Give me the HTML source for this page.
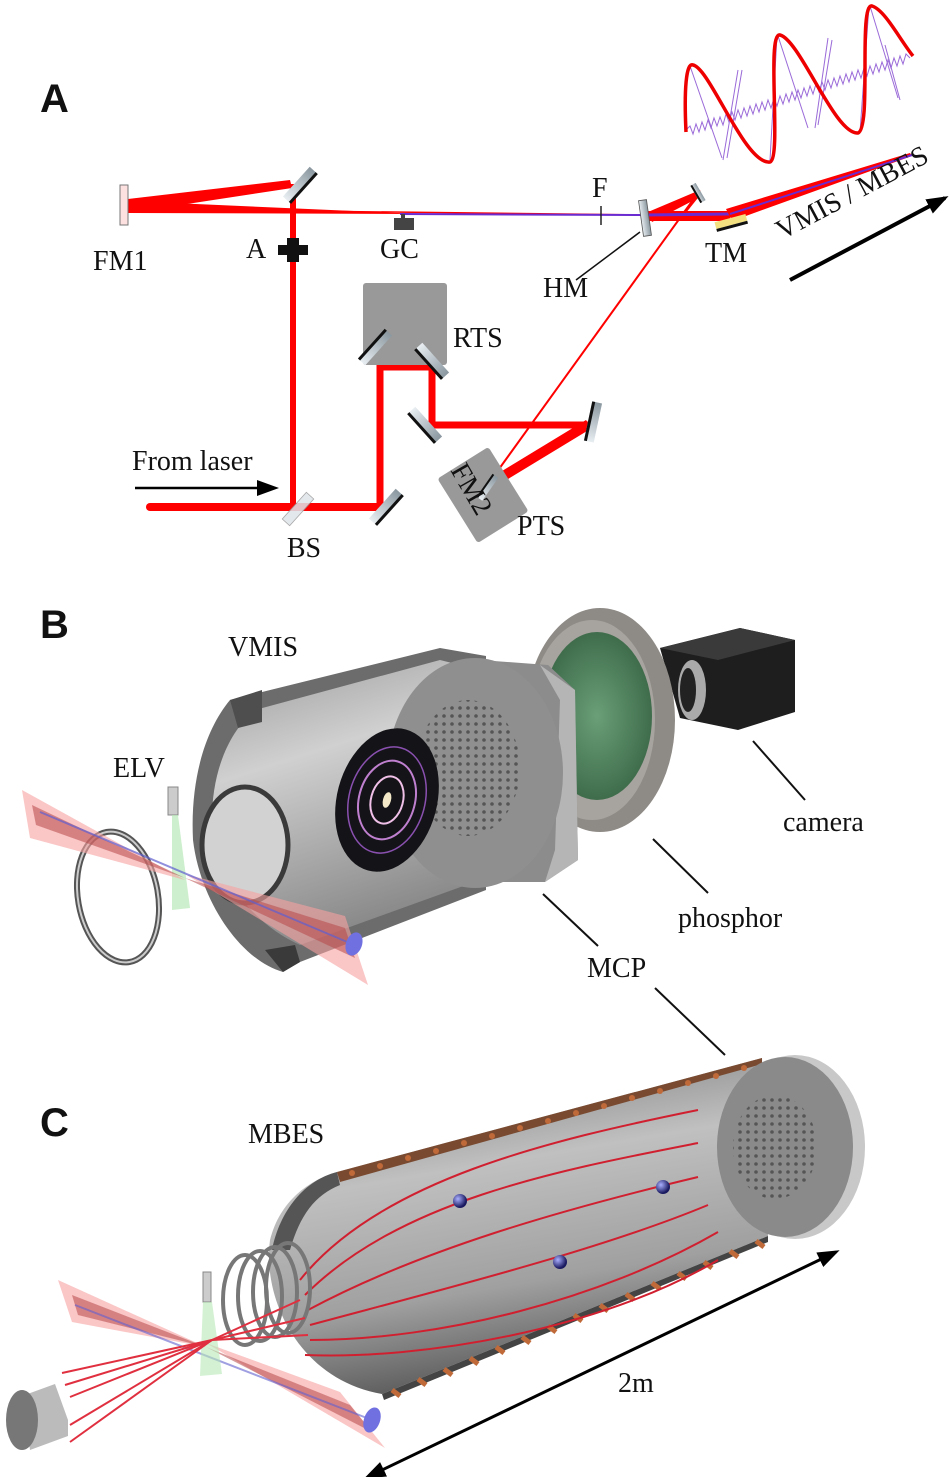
<!DOCTYPE html>
<html><head><meta charset="utf-8"><style>
html,body{margin:0;padding:0;background:#fff;}
svg{display:block;}
text{font-family:"Liberation Serif",serif;fill:#111;}
.big{font-family:"Liberation Sans",sans-serif;font-weight:bold;font-size:40px;}
.l{font-size:28px;}
</style></head><body>
<svg width="950" height="1477" viewBox="0 0 950 1477" xmlns="http://www.w3.org/2000/svg">
<defs>
<linearGradient id="mir" x1="0" x2="1"><stop offset="0" stop-color="#e8eef2"/><stop offset="1" stop-color="#8a979f"/></linearGradient>
<linearGradient id="inner" x1="0" y1="0" x2="0.3" y2="1"><stop offset="0" stop-color="#9a9a9a"/><stop offset="0.4" stop-color="#d0d0d0"/><stop offset="1" stop-color="#8a8a8a"/></linearGradient>
<linearGradient id="cylc" x1="0" y1="0" x2="0.25" y2="1"><stop offset="0" stop-color="#6d6d6d"/><stop offset="0.4" stop-color="#c0c0c0"/><stop offset="0.75" stop-color="#a0a0a0"/><stop offset="1" stop-color="#5e5e5e"/></linearGradient>
<radialGradient id="grn" cx="0.5" cy="0.5" r="0.5"><stop offset="0" stop-color="#6a9f77"/><stop offset="1" stop-color="#3f6d4c"/></radialGradient>
<radialGradient id="ball" cx="0.35" cy="0.35" r="0.6"><stop offset="0" stop-color="#aab0ff"/><stop offset="1" stop-color="#1a1a60"/></radialGradient>
<pattern id="holes" width="8" height="8" patternUnits="userSpaceOnUse"><circle cx="4" cy="4" r="1.8" fill="#555"/></pattern>
<marker id="ah2" markerWidth="22" markerHeight="16" refX="18" refY="8" orient="auto" markerUnits="userSpaceOnUse"><path d="M0,0 L22,8 L0,16 Z" fill="#000"/></marker>
<marker id="ah3" markerWidth="22" markerHeight="16" refX="4" refY="8" orient="auto-start-reverse" markerUnits="userSpaceOnUse"><path d="M0,0 L22,8 L0,16 Z" fill="#000"/></marker>
</defs>

<!-- ========== PANEL A ========== -->
<text class="big" x="40" y="112">A</text>

<!-- wave -->
<g stroke="#9a6ad8" stroke-width="1" fill="none">
<polyline points="686,130 690,126 693,134 696,124 699,132 702,122 705,130 708,120 711,128 714,118 717,126 720,117 723,125 726,114 729,122 732,112 735,120 738,110 741,118 744,108 747,116 750,106 753,114 756,104 759,112 762,102 765,110 768,100 771,108 774,98 777,106 780,96 783,104 786,94 789,102 792,92 795,100 798,90 801,98 804,88 807,96 810,86 813,94 816,84 819,92 822,82 825,90 828,80 831,88 834,78 837,86 840,76 843,84 846,74 849,82 852,72 855,80 858,70 861,78 864,68 867,76 870,66 873,74 876,64 879,72 882,62 885,70 888,60 891,68 894,58 897,66 900,56 903,64 906,54 910,58"/>
<line x1="690" y1="66" x2="722" y2="158"/><line x1="738" y1="70" x2="723" y2="160"/><line x1="742" y1="70" x2="727" y2="158"/>
<line x1="777" y1="36" x2="770" y2="160"/><line x1="778" y1="36" x2="808" y2="128"/><line x1="828" y1="38" x2="815" y2="128"/><line x1="832" y1="40" x2="818" y2="125"/>
<line x1="869" y1="6" x2="860" y2="132"/><line x1="870" y1="6" x2="898" y2="98"/><line x1="885" y1="45" x2="900" y2="100"/>
</g>
<path d="M686,132 C684,90 686,62 693,65 C710,68 745,165 770,162 C782,158 766,32 780,35 C800,40 835,135 858,133 C872,128 858,3 872,6 C885,10 900,40 913,56" fill="none" stroke="#e00" stroke-width="3.5"/>

<!-- beams -->
<polygon points="128,199 290,180 292,188 128,213" fill="#f00"/>
<polygon points="128,201 128,213 420,214" fill="#f00"/>
<line x1="128" y1="209" x2="645" y2="215" stroke="#f00" stroke-width="1.5"/>
<line x1="400" y1="214" x2="645" y2="215" stroke="#6a2bd0" stroke-width="2"/>
<line x1="293" y1="184" x2="293" y2="508" stroke="#f00" stroke-width="6"/>
<line x1="150" y1="507" x2="384" y2="507" stroke="#f00" stroke-width="8" stroke-linecap="round"/>
<polyline points="380,507 380,367 432,367 432,425 590,425" fill="none" stroke="#f00" stroke-width="7"/>
<polygon points="586,420 592,428 490,490 484,482" fill="#f00"/>
<line x1="486" y1="487" x2="698" y2="193" stroke="#f00" stroke-width="2"/>
<polygon points="648,212 700,190 702,196 652,222" fill="#f00"/>
<line x1="680" y1="218" x2="700" y2="193" stroke="#f00" stroke-width="3"/>
<polygon points="645,211 730,211 730,221 645,221" fill="#f00"/>
<line x1="645" y1="215" x2="730" y2="214" stroke="#6a2bd0" stroke-width="3"/>
<polygon points="726,209 910,153 912,156 732,221" fill="#f00"/>
<line x1="730" y1="214" x2="912" y2="155" stroke="#6a2bd0" stroke-width="2"/>

<!-- optics -->
<rect x="120" y="185" width="8" height="40" fill="#fde0e0" stroke="#777" stroke-width="1"/>
<g transform="translate(300,185) rotate(-48)"><rect x="-20" y="-5" width="40" height="10" fill="url(#mir)"/><rect x="-20" y="3" width="40" height="3" fill="#111"/></g>
<rect x="278" y="245" width="30" height="10" fill="#111"/><rect x="287" y="238" width="12" height="24" fill="#111"/>
<rect x="394" y="218" width="20" height="12" fill="#444"/><rect x="401" y="214" width="4" height="4" fill="#444"/>
<line x1="601" y1="206" x2="601" y2="225" stroke="#222" stroke-width="1.5"/>
<g transform="translate(645,218) rotate(-8)"><rect x="-4" y="-18" width="8" height="36" fill="url(#mir)" stroke="#555" stroke-width="0.8"/></g>
<g transform="translate(698,193) rotate(-30)"><rect x="-3" y="-10" width="6" height="20" fill="url(#mir)"/><rect x="-3" y="-10" width="2" height="20" fill="#111"/></g>
<g transform="translate(731,222) rotate(-15)"><rect x="-16" y="-4" width="32" height="7" fill="#f3e080"/><rect x="-16" y="3" width="32" height="3" fill="#111"/></g>
<g transform="translate(298,509) rotate(-48)"><rect x="-18" y="-5" width="36" height="10" fill="#dfe5ea" stroke="#999" stroke-width="0.8" opacity="0.85"/></g>
<g transform="translate(386,507) rotate(-48)"><rect x="-20" y="-5" width="40" height="10" fill="url(#mir)"/><rect x="-20" y="3" width="40" height="3" fill="#111"/></g>
<rect x="363" y="283" width="84" height="82" rx="3" fill="#999"/>
<g transform="translate(375,347) rotate(-48)"><rect x="-20" y="-5" width="40" height="10" fill="url(#mir)"/><rect x="-20" y="-5" width="40" height="3" fill="#111"/></g>
<g transform="translate(432,361) rotate(48)"><rect x="-20" y="-5" width="40" height="10" fill="url(#mir)"/><rect x="-20" y="3" width="40" height="3" fill="#111"/></g>
<g transform="translate(425,425) rotate(48)"><rect x="-20" y="-5" width="40" height="10" fill="url(#mir)"/><rect x="-20" y="3" width="40" height="3" fill="#111"/></g>
<g transform="translate(593,422) rotate(-78)"><rect x="-20" y="-5" width="40" height="10" fill="url(#mir)"/><rect x="-20" y="-5" width="40" height="3" fill="#111"/></g>
<g transform="translate(483,495) rotate(-32)"><rect x="-30" y="-38" width="60" height="76" rx="3" fill="#999"/></g>
<g transform="translate(487,487) rotate(-55)"><rect x="-14" y="-3" width="28" height="7" fill="url(#mir)"/><rect x="-14" y="-3" width="28" height="2" fill="#111"/></g>

<!-- labels A -->
<text class="l" x="93" y="270">FM1</text>
<text class="l" x="246" y="258">A</text>
<text class="l" x="380" y="258">GC</text>
<text class="l" x="592" y="197">F</text>
<text class="l" x="543" y="297">HM</text>
<line x1="576" y1="280" x2="640" y2="232" stroke="#111" stroke-width="1.5"/>
<text class="l" x="705" y="262">TM</text>
<text class="l" x="453" y="347">RTS</text>
<text class="l" x="517" y="535">PTS</text>
<text class="l" x="0" y="0" transform="translate(450,470) rotate(60)">FM2</text>
<text class="l" x="304" y="557" text-anchor="middle">BS</text>
<text class="l" x="132" y="470">From laser</text>
<line x1="135" y1="488" x2="275" y2="488" stroke="#000" stroke-width="2.5" marker-end="url(#ah2)"/>
<text class="l" x="0" y="0" transform="translate(782,240) rotate(-28)">VMIS / MBES</text>
<line x1="790" y1="280" x2="945" y2="198" stroke="#000" stroke-width="4" marker-end="url(#ah2)"/>

<!-- ========== PANEL B ========== -->
<text class="big" x="40" y="638">B</text>
<text class="l" x="228" y="656">VMIS</text>
<!-- camera -->
<polygon points="660,648 740,628 795,640 795,712 738,730 680,718" fill="#1e1e1e"/>
<polygon points="660,648 740,628 795,640 718,660" fill="#3a3a3a"/>
<ellipse cx="692" cy="690" rx="14" ry="30" fill="#aaa"/><ellipse cx="688" cy="690" rx="8" ry="22" fill="#222"/>
<!-- phosphor -->
<ellipse cx="600" cy="720" rx="75" ry="112" fill="#8e8a85"/>
<ellipse cx="592" cy="720" rx="63" ry="100" fill="#a7a39e"/>
<ellipse cx="597" cy="716" rx="55" ry="84" fill="url(#grn)"/>
<!-- MCP ring -->
<polygon points="480,660 548,665 575,690 578,860 545,882 470,882" fill="#8c8c8c"/>
<polygon points="540,665 575,690 578,860 545,882 555,850 560,700" fill="#b5b5b5"/>
<!-- body shell -->
<path d="M230,700 L440,648 L486,656 L486,890 L300,962 L283,972 C240,960 200,900 193,840 C190,780 205,730 230,700 Z" fill="#6c6c6c"/>
<path d="M255,710 L440,660 L480,670 L480,880 L300,945 C255,925 218,880 212,830 C210,780 225,735 255,710 Z" fill="url(#inner)"/>
<polygon points="230,700 262,690 262,722 238,728" fill="#4e4e4e"/>
<polygon points="265,950 283,972 300,962 295,945" fill="#3a3a3a"/>
<ellipse cx="245" cy="845" rx="43" ry="58" fill="#d2d2d2" stroke="#3a3a3a" stroke-width="5"/>
<!-- front disk -->
<ellipse cx="475" cy="773" rx="88" ry="115" fill="#8f8f8f"/>
<ellipse cx="468" cy="768" rx="52" ry="68" fill="url(#holes)"/>
<g transform="translate(387,800) rotate(15)"><ellipse rx="50" ry="73" fill="#141418"/>
<ellipse rx="38" ry="54" fill="none" stroke="#8a50b0" stroke-width="1.5"/>
<ellipse rx="28" ry="40" fill="none" stroke="#c080d0" stroke-width="2"/>
<ellipse rx="16" ry="24" fill="none" stroke="#f0c0e8" stroke-width="2"/>
<ellipse rx="4" ry="8" fill="#f3e8c8"/></g>
<!-- ring left -->
<ellipse cx="118" cy="897" rx="40" ry="66" fill="none" stroke="#555" stroke-width="6" transform="rotate(-10 118 897)"/>
<ellipse cx="118" cy="897" rx="40" ry="66" fill="none" stroke="#ccc" stroke-width="2" transform="rotate(-10 118 897)"/>
<!-- ELV -->
<rect x="168" y="787" width="10" height="28" fill="#ccc" stroke="#888"/>
<polygon points="172,815 178,815 190,908 172,910" fill="#b8e8b8" opacity="0.7"/>
<!-- beam bow-tie -->
<polygon points="22,790 30,838 185,880" fill="#f6a0a0" opacity="0.6"/>
<polygon points="185,874 345,916 368,985" fill="#f6a0a0" opacity="0.6"/>
<polygon points="32,805 36,825 185,878" fill="#b84848" opacity="0.55"/>
<polygon points="185,878 345,928 355,958" fill="#b84848" opacity="0.55"/>
<line x1="40" y1="812" x2="352" y2="944" stroke="#6060d0" stroke-width="2" opacity="0.7"/>
<ellipse cx="354" cy="944" rx="8" ry="12" fill="#7070e0" transform="rotate(20 354 944)"/>
<!-- labels B -->
<text class="l" x="113" y="777">ELV</text>
<text class="l" x="783" y="831">camera</text>
<line x1="753" y1="741" x2="805" y2="800" stroke="#111" stroke-width="2"/>
<text class="l" x="678" y="927">phosphor</text>
<line x1="653" y1="839" x2="708" y2="893" stroke="#111" stroke-width="2"/>
<text class="l" x="587" y="977">MCP</text>
<line x1="543" y1="894" x2="598" y2="946" stroke="#111" stroke-width="2"/>
<line x1="655" y1="988" x2="725" y2="1055" stroke="#111" stroke-width="2"/>

<!-- ========== PANEL C ========== -->
<text class="big" x="40" y="1136">C</text>
<text class="l" x="248" y="1143">MBES</text>
<ellipse cx="795" cy="1147" rx="70" ry="92" fill="#c8c8c8"/>
<path d="M337,1172 L762,1058 L768,1236 L382,1394 C300,1380 262,1300 270,1240 C280,1200 310,1180 337,1172 Z" fill="url(#cylc)"/>
<path d="M337,1172 C305,1180 280,1210 272,1250 L290,1250 C300,1215 315,1195 340,1185 Z" fill="#555"/>
<polygon points="337,1172 762,1058 762,1064 340,1182" fill="#7a4a30"/>
<polygon points="382,1394 768,1236 768,1242 384,1400" fill="#444"/>
<g fill="#c06a3a">
<circle cx="352" cy="1173" r="3"/><circle cx="380" cy="1166" r="3"/><circle cx="408" cy="1158" r="3"/><circle cx="436" cy="1151" r="3"/><circle cx="464" cy="1143" r="3"/><circle cx="492" cy="1136" r="3"/><circle cx="520" cy="1128" r="3"/><circle cx="548" cy="1121" r="3"/><circle cx="576" cy="1113" r="3"/><circle cx="604" cy="1106" r="3"/><circle cx="632" cy="1098" r="3"/><circle cx="660" cy="1091" r="3"/><circle cx="688" cy="1083" r="3"/><circle cx="716" cy="1076" r="3"/><circle cx="744" cy="1068" r="3"/>
</g>
<g stroke="#c06a3a" stroke-width="5">
<line x1="392" y1="1390" x2="400" y2="1396"/><line x1="418" y1="1379" x2="426" y2="1385"/><line x1="444" y1="1369" x2="452" y2="1375"/><line x1="470" y1="1358" x2="478" y2="1364"/><line x1="496" y1="1347" x2="504" y2="1353"/><line x1="522" y1="1337" x2="530" y2="1343"/><line x1="548" y1="1326" x2="556" y2="1332"/><line x1="574" y1="1315" x2="582" y2="1321"/><line x1="600" y1="1305" x2="608" y2="1311"/><line x1="626" y1="1294" x2="634" y2="1300"/><line x1="652" y1="1283" x2="660" y2="1289"/><line x1="678" y1="1273" x2="686" y2="1279"/><line x1="704" y1="1262" x2="712" y2="1268"/><line x1="730" y1="1251" x2="738" y2="1257"/><line x1="756" y1="1241" x2="764" y2="1247"/>
</g>
<ellipse cx="785" cy="1147" rx="68" ry="90" fill="#8a8a8a"/>
<ellipse cx="775" cy="1147" rx="42" ry="52" fill="url(#holes)"/>
<g fill="none" stroke="#d02030" stroke-width="2">
<path d="M300,1280 C380,1180 550,1140 698,1110"/>
<path d="M305,1295 C400,1200 560,1170 698,1143"/>
<path d="M308,1310 C420,1250 560,1210 698,1177"/>
<path d="M310,1325 C440,1290 600,1250 708,1205"/>
<path d="M310,1340 C440,1340 600,1300 718,1232"/>
<path d="M305,1355 C420,1360 600,1330 718,1260"/>
</g>
<circle cx="460" cy="1201" r="7" fill="url(#ball)"/><circle cx="663" cy="1187" r="7" fill="url(#ball)"/><circle cx="560" cy="1262" r="7" fill="url(#ball)"/>
<g fill="none" stroke="#777" stroke-width="4">
<ellipse cx="245" cy="1300" rx="22" ry="45"/><ellipse cx="260" cy="1296" rx="22" ry="45"/><ellipse cx="275" cy="1292" rx="22" ry="45"/><ellipse cx="288" cy="1288" rx="22" ry="45"/>
</g>
<!-- beam bow-tie C -->
<polygon points="58,1280 72,1322 206,1347" fill="#f6a0a0" opacity="0.6"/>
<polygon points="206,1343 340,1392 385,1448" fill="#f6a0a0" opacity="0.6"/>
<polygon points="72,1295 78,1315 206,1347" fill="#b84848" opacity="0.55"/>
<polygon points="206,1347 350,1405 372,1432" fill="#b84848" opacity="0.55"/>
<line x1="75" y1="1305" x2="372" y2="1420" stroke="#6060d0" stroke-width="2" opacity="0.6"/>
<ellipse cx="372" cy="1420" rx="8" ry="13" fill="#7070e0" transform="rotate(20 372 1420)"/>
<rect x="203" y="1272" width="8" height="30" fill="#ccc" stroke="#888"/>
<polygon points="203,1302 212,1302 222,1374 200,1376" fill="#b8e8b8" opacity="0.6"/>
<g stroke="#e03040" stroke-width="2">
<line x1="62" y1="1373" x2="212" y2="1340"/><line x1="65" y1="1385" x2="212" y2="1340"/><line x1="70" y1="1397" x2="212" y2="1340"/><line x1="70" y1="1425" x2="212" y2="1340"/><line x1="70" y1="1442" x2="212" y2="1340"/>
<line x1="212" y1="1340" x2="300" y2="1300"/><line x1="212" y1="1340" x2="305" y2="1318"/><line x1="212" y1="1340" x2="308" y2="1335"/>
</g>
<polygon points="22,1396 55,1384 68,1420 68,1436 30,1450" fill="#bbb"/>
<ellipse cx="22" cy="1420" rx="16" ry="30" fill="#777"/>
<line x1="380" y1="1471" x2="836" y2="1252" stroke="#000" stroke-width="3" marker-start="url(#ah3)" marker-end="url(#ah2)"/>
<text class="l" x="618" y="1392">2m</text>
</svg>
</body></html>
